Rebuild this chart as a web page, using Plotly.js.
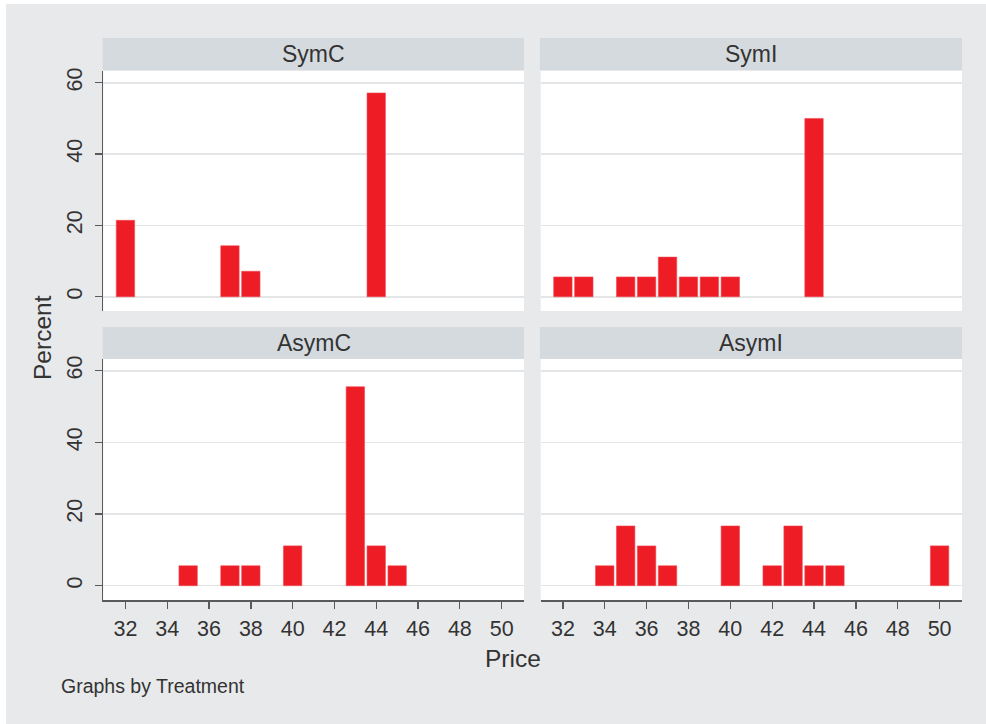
<!DOCTYPE html>
<html>
<head>
<meta charset="utf-8">
<script src="https://cdn.plot.ly/plotly-3.0.1.min.js"></script>
<style>html,body{margin:0;padding:0;background:#fff;}#chart{width:986px;height:724px;}</style>
</head>
<body>
<div id="chart"></div>
<script>
// Data: percent of observations at each price, by treatment
const panelNames = ["SymC", "SymI", "AsymC", "AsymI"];
const symCPrice = [32, 37, 38, 44];
const symCPct   = [21.43, 14.29, 7.14, 57.14];
const symIPrice = [32, 33, 35, 36, 37, 38, 39, 40, 44];
const symIPct   = [5.56, 5.56, 5.56, 5.56, 11.11, 5.56, 5.56, 5.56, 50.0];
const asymCPrice = [35, 37, 38, 40, 43, 44, 45];
const asymCPct   = [5.56, 5.56, 5.56, 11.11, 55.56, 11.11, 5.56];
const asymIPrice = [34, 35, 36, 37, 40, 42, 43, 44, 45, 50];
const asymIPct   = [5.56, 16.67, 11.11, 5.56, 16.67, 5.56, 16.67, 5.56, 5.56, 11.11];
const xTicks = [32, 34, 36, 38, 40, 42, 44, 46, 48, 50];
const yTicks = [0, 20, 40, 60];
const xTitle = "Price";
const yTitle = "Percent";
const note = "Graphs by Treatment";

const W = 986, H = 724;
const px = v => v / W;
const py = v => 1 - v / H;

const BAR = "#ee1c25";
const FONT = "Liberation Sans, Arial, sans-serif";
const TXT = "#333333";
const AX = "#5a5a5a";
const GRID = "#e4e5e7";
const BG = "#e8e9eb";
const STRIP = "#d5dadf";

const series = [[symCPrice, symCPct], [symIPrice, symIPct], [asymCPrice, asymCPct], [asymIPrice, asymIPct]];
const traces = series.map((s, i) => ({
  type: "bar",
  x: s[0], y: s[1],
  width: 0.88,
  marker: {color: BAR, line: {color: "#f04a52", width: 0.6}},
  xaxis: i === 0 ? "x" : "x" + (i + 1),
  yaxis: i === 0 ? "y" : "y" + (i + 1),
  showlegend: false,
  hoverinfo: "x+y"
}));

const colX = [[103.3, 524], [540.7, 962]];
const rowY = [[71, 311], [359, 600]];
const stripY = [[38, 70], [327, 359]];

const layout = {
  width: W, height: H,
  margin: {l: 0, r: 0, t: 0, b: 0},
  paper_bgcolor: BG,
  plot_bgcolor: "#ffffff",
  font: {family: FONT, color: TXT, size: 21},
  bargap: 0,
  shapes: [
    {type: "rect", xref: "paper", yref: "paper", x0: 0, x1: px(6), y0: 0, y1: 1,
     fillcolor: "#ffffff", line: {width: 0}, layer: "below"},
    {type: "rect", xref: "paper", yref: "paper", x0: 0, x1: 1, y0: py(4), y1: 1,
     fillcolor: "#ffffff", line: {width: 0}, layer: "below"}
  ],
  annotations: []
};

for (let i = 0; i < 4; i++) {
  const r = Math.floor(i / 2), c = i % 2;
  const xa = i === 0 ? "xaxis" : "xaxis" + (i + 1);
  const ya = i === 0 ? "yaxis" : "yaxis" + (i + 1);
  const xid = i === 0 ? "x" : "x" + (i + 1);
  const yid = i === 0 ? "y" : "y" + (i + 1);
  const bottom = r === 1, left = c === 0;
  layout[xa] = {
    domain: [px(colX[c][0]), px(colX[c][1])],
    anchor: yid,
    range: [30.94, 51.07],
    tickmode: "array", tickvals: xTicks, ticktext: xTicks.map(String),
    showticklabels: bottom,
    ticks: bottom ? "outside" : "",
    ticklen: 7, tickwidth: 1.3, tickcolor: AX,
    ticklabelstandoff: 2,
    showline: bottom, linecolor: AX, linewidth: 1.5,
    showgrid: false, zeroline: false,
    tickfont: {size: 21.5, color: TXT, family: FONT},
    fixedrange: true
  };
  layout[ya] = {
    domain: [py(rowY[r][1]), py(rowY[r][0])],
    anchor: xid,
    range: [-4, 63.3],
    tickmode: "array", tickvals: yTicks, ticktext: yTicks.map(String),
    showticklabels: left,
    ticks: left ? "outside" : "",
    ticklen: 7, tickwidth: 1.3, tickcolor: AX,
    tickangle: -90,
    ticklabelstandoff: 4,
    showline: left, linecolor: AX, linewidth: 1.5,
    showgrid: true, gridcolor: GRID, gridwidth: 1.6,
    zeroline: false,
    tickfont: {size: 21.5, color: TXT, family: FONT},
    fixedrange: true
  };
  layout.shapes.push({type: "rect", xref: "paper", yref: "paper",
    x0: px(colX[c][0] - 0.8), x1: px(colX[c][1]), y0: py(stripY[r][1]), y1: py(stripY[r][0]),
    fillcolor: STRIP, line: {width: 0}, layer: "below"});
  layout.annotations.push({xref: "paper", yref: "paper",
    x: px((colX[c][0] + colX[c][1]) / 2), y: py((stripY[r][0] + stripY[r][1]) / 2),
    text: panelNames[i], showarrow: false, xanchor: "center", yanchor: "middle",
    font: {size: 23, color: TXT, family: FONT}});
}

layout.annotations.push({xref: "paper", yref: "paper", x: px(513), y: py(658),
  text: xTitle, showarrow: false, xanchor: "center", yanchor: "middle",
  font: {size: 24.5, color: TXT, family: FONT}});
layout.annotations.push({xref: "paper", yref: "paper", x: px(42), y: py(338),
  text: yTitle, showarrow: false, textangle: -90, xanchor: "center", yanchor: "middle",
  font: {size: 24.5, color: TXT, family: FONT}});
layout.annotations.push({xref: "paper", yref: "paper", x: px(59), y: py(686),
  text: note, showarrow: false, xanchor: "left", yanchor: "middle",
  font: {size: 19.5, color: TXT, family: FONT}});

Plotly.newPlot("chart", traces, layout, {displayModeBar: false, staticPlot: true});
</script>
</body>
</html>
